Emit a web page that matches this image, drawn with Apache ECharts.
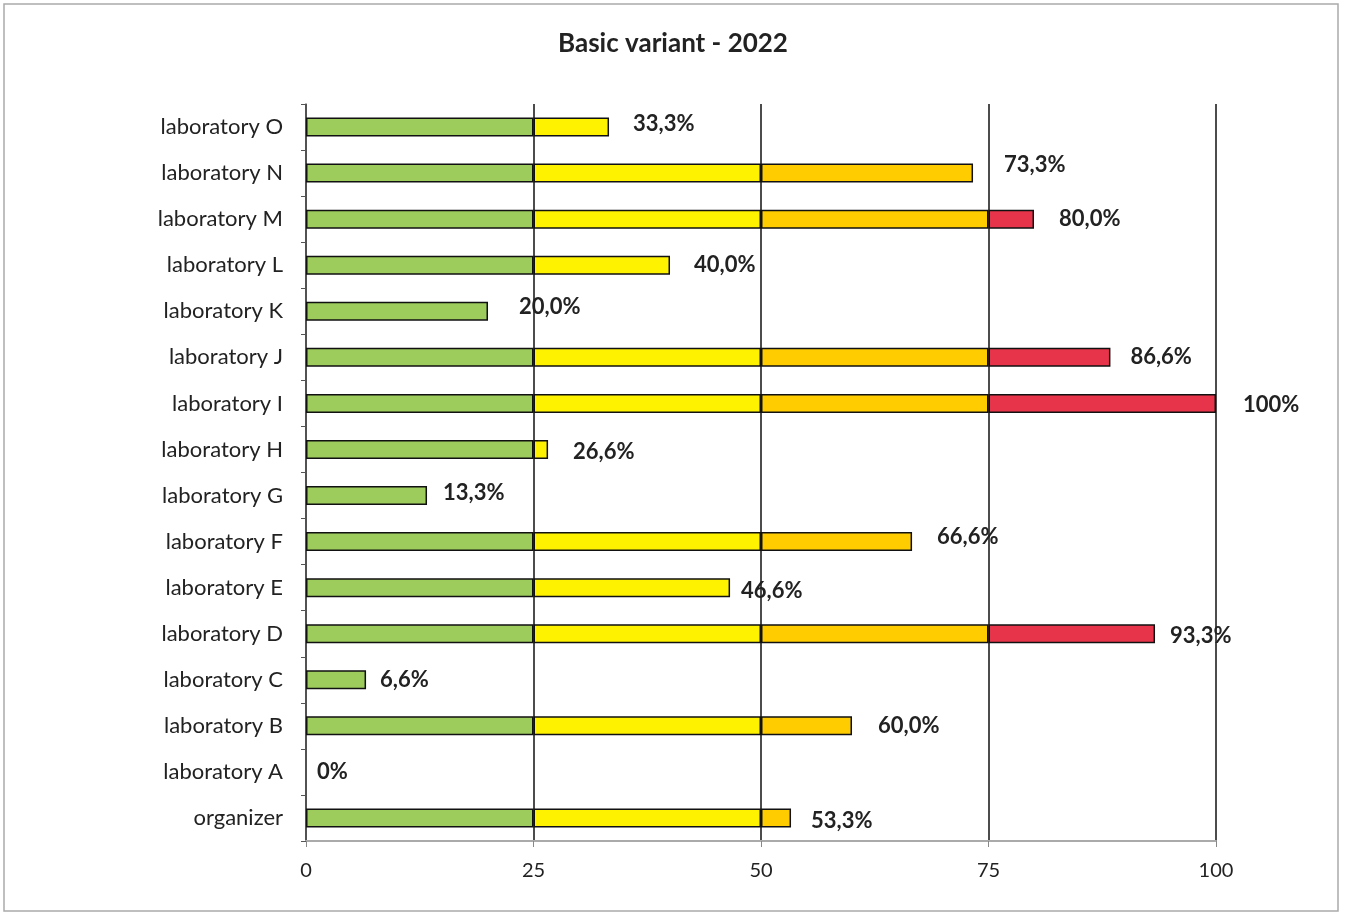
<!DOCTYPE html>
<html><head><meta charset="utf-8">
<script src="https://cdn.jsdelivr.net/npm/echarts@6/dist/echarts.min.js"></script>
<style>html,body{margin:0;padding:0;background:#fff}#c{width:1346px;height:915px}</style>
</head><body><div id="c"></div>
<script>
const categories = ['organizer','laboratory A','laboratory B','laboratory C','laboratory D','laboratory E','laboratory F','laboratory G','laboratory H','laboratory I','laboratory J','laboratory K','laboratory L','laboratory M','laboratory N','laboratory O'];
const values = [53.3, 0, 60.0, 6.6, 93.3, 46.6, 66.6, 13.3, 26.6, 100, 88.4, 20.0, 40.0, 80.0, 73.3, 33.3];
const valueLabels = ['53,3%','0%','60,0%','6,6%','93,3%','46,6%','66,6%','13,3%','26,6%','100%','86,6%','20,0%','40,0%','80,0%','73,3%','33,3%'];
const xTicks = [0, 25, 50, 75, 100];
const bands = [[0,25],[25,50],[50,75],[75,100]];
const bandColors = ['#9DCB5C','#FFF200','#FFCC00','#E8344A'];
// hand-placed label nudges seen in the reference: [dx from bar end, dy from bar centre]
const labelNudge = [[20,3],[11,0],[26,0],[14,0],[15,2],[11,3],[25,-5],[16,-3],[25,2],[27,1],[20,0],[31,-4],[24,0],[25,0],[31,-8],[24,-3]];

function seg(v, lo, hi){ const s = Math.min(v, hi) - lo; return s > 0 ? s : '-'; }

const chart = echarts.init(document.getElementById('c'));
const font = 'Lato, "Open Sans", sans-serif';
const series = bands.map((b, i) => ({
  type: 'bar', stack: 'v', barWidth: 19, silent: true,
  itemStyle: { color: bandColors[i], borderColor: '#111', borderWidth: 1.5 },
  data: values.map(v => seg(v, b[0], b[1]))
}));
series.push({
  type: 'bar', barWidth: 19, barGap: '-100%', silent: true,
  itemStyle: { color: 'rgba(0,0,0,0)' },
  label: { show: true, position: 'right', distance: 0, color: '#222', fontWeight: 'bold', fontSize: 22, fontFamily: font },
  data: values.map((v, i) => ({ value: v, label: { formatter: valueLabels[i], offset: labelNudge[i] } })), z: 5
});
chart.setOption({
  animation: false,
  title: { text: 'Basic variant - 2022', left: 'center', top: 26, textStyle: { fontFamily: font, fontSize: 26, fontWeight: 'bold', color: '#222' } },
  graphic: [{ type: 'rect', shape: { x: 4, y: 4, width: 1334, height: 907 }, style: { fill: 'none', stroke: '#aaa', lineWidth: 1.5 }, silent: true }],
  grid: { left: 306, right: 130, top: 104, bottom: 74 },
  xAxis: { type: 'value', min: 0, max: 100, interval: 25,
    axisLine: { show: true, lineStyle: { color: '#aaa', width: 2 } },
    axisTick: { show: true, length: 6, lineStyle: { color: '#888' } },
    axisLabel: { margin: 20, fontSize: 20, fontFamily: font, color: '#222', formatter: v => xTicks.includes(v) ? String(v) : '' },
    splitLine: { show: true, lineStyle: { color: '#111', width: 1.5 } }
  },
  yAxis: { type: 'category', data: categories,
    axisLine: { show: true, lineStyle: { color: '#555', width: 1.5 } },
    axisTick: { show: true, length: 5, lineStyle: { color: '#555' } },
    axisLabel: { margin: 23, fontSize: 22, fontFamily: font, color: '#222' },
    splitLine: { show: false }
  },
  series
});
</script></body></html>
